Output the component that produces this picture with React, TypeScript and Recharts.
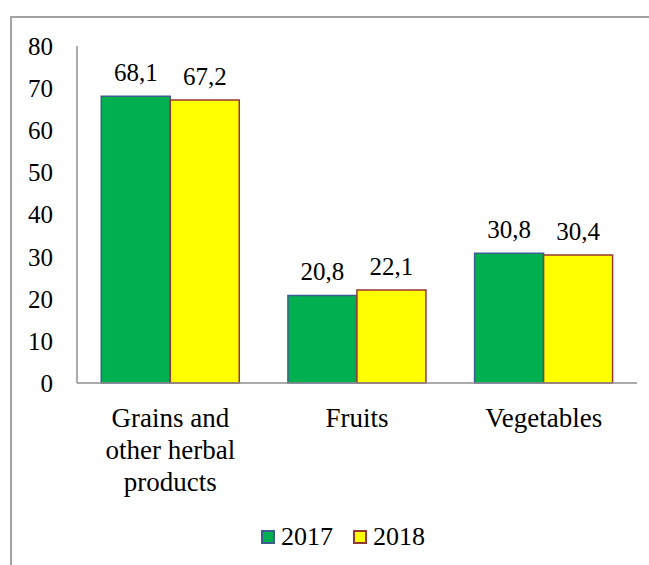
import React from 'react';
import { BarChart, Bar, XAxis, YAxis, Legend, LabelList } from 'recharts';

const categories = ['Grains and other herbal products', 'Fruits', 'Vegetables'];
const categoryLines = [['Grains and', 'other herbal', 'products'], ['Fruits'], ['Vegetables']];
const values2017 = [68.1, 20.8, 30.8];
const values2018 = [67.2, 22.1, 30.4];
const yTicks = [0, 10, 20, 30, 40, 50, 60, 70, 80];

const series = [
  { key: 'y2017', name: '2017', fill: '#00B050', stroke: '#3B5E8C' },
  { key: 'y2018', name: '2018', fill: '#FFFF00', stroke: '#953735' },
];

const data = categories.map((c, i) => ({ category: c, y2017: values2017[i], y2018: values2018[i] }));

const FONT = "'Liberation Serif', Tinos, 'Times New Roman', 'DejaVu Serif', serif";

const fmt = (v: any) => Number(v).toFixed(1).replace('.', ',');

const CategoryTick = ({ x, y, payload }: any) => {
  const idx = categories.indexOf(payload.value);
  const lines = idx >= 0 ? categoryLines[idx] : [payload.value];
  return (
    <text x={x} y={y + 44} textAnchor="middle" fill="#000" fontFamily={FONT} fontSize={27}>
      {lines.map((l, i) => (
        <tspan key={i} x={x} dy={i === 0 ? 0 : 32}>
          {l}
        </tspan>
      ))}
    </text>
  );
};

const LegendContent = () => (
  <div style={{ display: 'flex', alignItems: 'center', fontFamily: FONT, fontSize: 26, color: '#000', whiteSpace: 'nowrap' }}>
    {series.map((s, i) => (
      <div key={s.key} style={{ display: 'flex', alignItems: 'center', marginLeft: i === 0 ? 0 : 20 }}>
        <span
          style={{
            display: 'inline-block',
            width: 10,
            height: 10,
            background: s.fill,
            border: `2px solid ${s.stroke}`,
            marginRight: 6,
          }}
        />
        <span>{s.name}</span>
      </div>
    ))}
  </div>
);

export default function App() {
  return (
    <div style={{ position: 'absolute', left: 0, top: 0, width: 649, height: 565, overflow: 'hidden', background: '#fff' }}>
      <div
        style={{
          position: 'absolute',
          left: 10,
          top: 16,
          width: 700,
          height: 600,
          borderTop: '2px solid #a3a3a3',
          borderLeft: '2px solid #a3a3a3',
        }}
      />
      <div style={{ position: 'absolute', left: 0, top: 0 }}>
        <BarChart
          width={649}
          height={565}
          data={data}
          margin={{ top: 46, right: 12, bottom: 0, left: 0 }}
          barCategoryGap="13%"
          barGap={0}
        >
          <XAxis
            dataKey="category"
            height={182}
            interval={0}
            tickLine={false}
            tickSize={0}
            tickMargin={0}
            stroke="#8f8f8f"
            strokeWidth={1.5}
            tick={<CategoryTick />}
          />
          <YAxis
            width={77}
            domain={[0, 80]}
            ticks={yTicks}
            interval={0}
            tickLine={false}
            tickSize={0}
            tickMargin={24}
            stroke="#8f8f8f"
            strokeWidth={1.5}
            tick={{ fill: '#000', fontSize: 25, fontFamily: FONT }}
          />
          <Legend
            layout="vertical"
            align="center"
            verticalAlign="middle"
            wrapperStyle={{ top: 522, left: 261, width: 'auto' }}
            content={<LegendContent />}
          />
          {series.map((s) => (
            <Bar
              key={s.key}
              dataKey={s.key}
              name={s.name}
              fill={s.fill}
              stroke={s.stroke}
              strokeWidth={1.5}
              isAnimationActive={false}
            >
              <LabelList
                dataKey={s.key}
                position="top"
                offset={15}
                formatter={fmt}
                fontFamily={FONT}
                fontSize={25}
                fill="#000"
                style={{ fill: '#000', fontSize: 25, fontFamily: FONT }}
              />
            </Bar>
          ))}
        </BarChart>
      </div>
    </div>
  );
}
